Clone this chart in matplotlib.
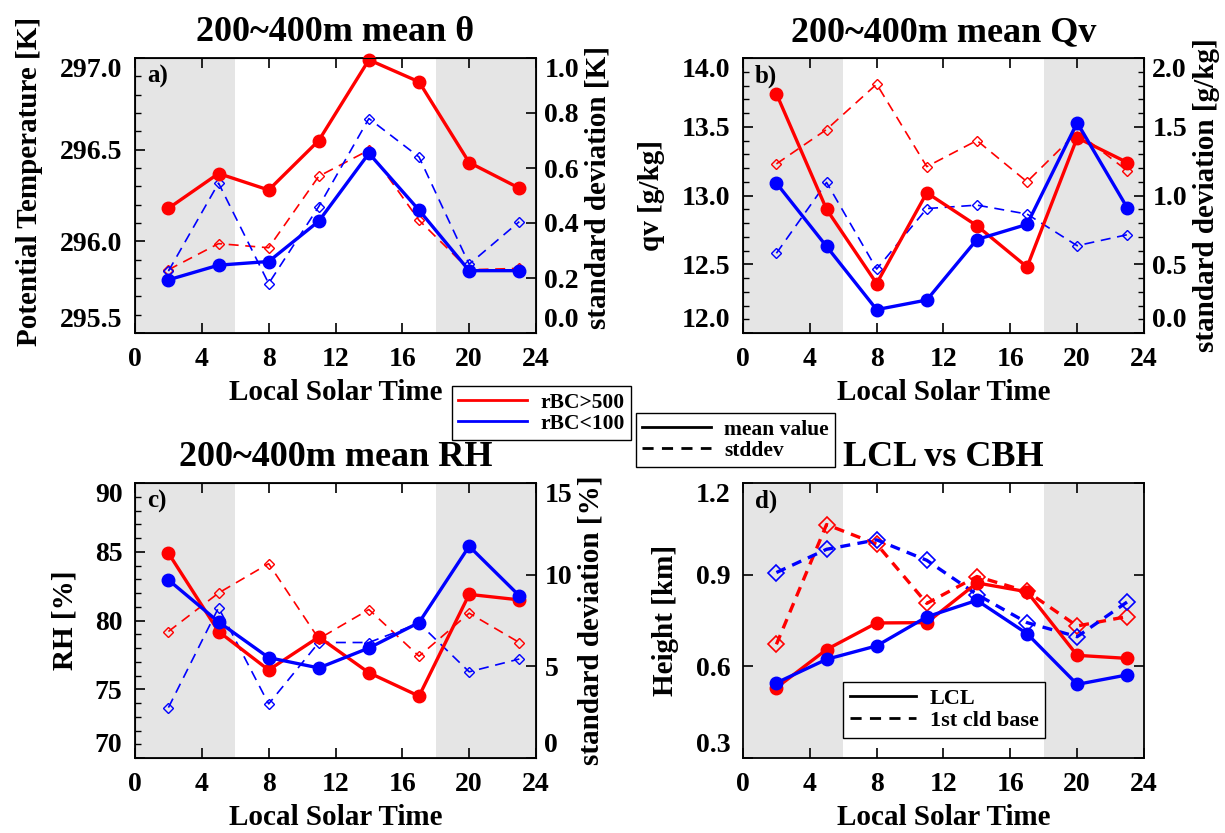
#!/usr/bin/python3

'''
 Diurnal cycle of 200~400m mean theta, Qv, RH and LCL vs cloud base height
 for high (rBC>500) and low (rBC<100) black carbon cases.
'''

import numpy as np
import matplotlib
matplotlib.use('Agg')
import matplotlib.pyplot as plt
from matplotlib.lines import Line2D
from matplotlib.ticker import MultipleLocator, FormatStrFormatter

plt.rcParams['font.family'] = ['Liberation Serif', 'DejaVu Serif']
plt.rcParams['font.weight'] = 'bold'
plt.rcParams['axes.titleweight'] = 'bold'
plt.rcParams['axes.labelweight'] = 'bold'

# local solar time of each bin
hours = [2, 5, 8, 11, 14, 17, 20, 23]

# a) potential temperature
theta_high = [296.18, 296.37, 296.28, 296.55, 296.99, 296.87, 296.43, 296.29]
theta_low = [295.79, 295.87, 295.89, 296.11, 296.48, 296.17, 295.84, 295.84]
theta_sd_high = [0.23, 0.325, 0.31, 0.57, 0.665, 0.41, 0.23, 0.235]
theta_sd_low = [0.225, 0.545, 0.18, 0.46, 0.78, 0.64, 0.25, 0.405]

# b) water vapour mixing ratio
qv_high = [13.74, 12.90, 12.36, 13.02, 12.78, 12.48, 13.42, 13.24]
qv_low = [13.09, 12.63, 12.17, 12.24, 12.68, 12.79, 13.53, 12.91]
qv_sd_high = [1.23, 1.48, 1.81, 1.21, 1.40, 1.10, 1.46, 1.18]
qv_sd_low = [0.58, 1.095, 0.465, 0.905, 0.93, 0.865, 0.635, 0.715]

# c) relative humidity
rh_high = [84.9, 79.2, 76.4, 78.8, 76.2, 74.5, 81.9, 81.5]
rh_low = [82.95, 79.9, 77.3, 76.55, 78.0, 79.85, 85.4, 81.8]
rh_sd_high = [6.9, 9.0, 10.6, 6.5, 8.1, 5.55, 7.9, 6.3]
rh_sd_low = [2.75, 8.2, 2.95, 6.3, 6.3, 7.35, 4.7, 5.4]

# d) LCL and first cloud base height [km]
lcl_high = [0.53, 0.655, 0.742, 0.743, 0.873, 0.844, 0.636, 0.626]
lcl_low = [0.546, 0.623, 0.667, 0.762, 0.816, 0.707, 0.541, 0.572]
cbh_high = [0.672, 1.064, 1.0, 0.806, 0.894, 0.845, 0.732, 0.763]
cbh_low = [0.907, 0.983, 1.014, 0.947, 0.835, 0.743, 0.697, 0.811]

RED = '#ff0000'
BLUE = '#0000ff'
SHADE = '#e5e5e5'

W, H = 1225, 833
TICK_FS = 20
LABEL_FS = 21
TITLE_FS = 26


def pull_in_end_labels(ax):
    '''
    IDL style: top/bottom y tick labels sit inside the axis range
    '''
    lo, hi = ax.get_ylim()
    ticks = ax.yaxis.get_major_ticks()
    locs = ax.yaxis.get_majorticklocs()
    for tick, loc in zip(ticks, locs):
        if np.isclose(loc, hi):
            tick.label1.set_va('top')
            tick.label2.set_va('top')
        elif np.isclose(loc, lo):
            tick.label1.set_va('bottom')
            tick.label2.set_va('bottom')


def style_axis(ax, y_major, y_minor, right_ticks=False):
    '''
    Common x axis, night shading and tick styling for one panel
    '''
    ax.axvspan(0, 6, color=SHADE, zorder=0, lw=0)
    ax.axvspan(18, 24, color=SHADE, zorder=0, lw=0)
    ax.set_xlim(0, 24)
    ax.xaxis.set_major_locator(MultipleLocator(4))
    ax.yaxis.set_major_locator(MultipleLocator(y_major))
    if y_minor:
        ax.yaxis.set_minor_locator(MultipleLocator(y_minor))
    ax.tick_params(axis='both', which='major', direction='in', length=7, width=1.2,
                   labelsize=TICK_FS, top=True, right=right_ticks)
    ax.tick_params(axis='x', which='major', pad=10)
    ax.tick_params(axis='y', which='major', pad=9)
    ax.tick_params(axis='both', which='minor', direction='in', length=4, width=1.0,
                   top=False, right=right_ticks)
    for sp in ax.spines.values():
        sp.set_linewidth(1.3)
    ax.set_xlabel('Local Solar Time', fontsize=LABEL_FS, labelpad=5)


def panel(rect, mean_hi, mean_lo, sd_hi, sd_lo, ylim, sd_lim, y_major, y_minor,
          sd_major, sd_minor, ylabel, sdlabel, title, tag, fmt='%.1f', sdfmt='%.1f'):
    '''
    Mean values on the left axis, standard deviation on a twin right axis
    '''
    ax = fig.add_axes(rect)
    style_axis(ax, y_major, y_minor)
    ax.set_ylim(*ylim)
    ax.yaxis.set_major_formatter(FormatStrFormatter(fmt))
    ax.set_ylabel(ylabel, fontsize=LABEL_FS, labelpad=12)
    ax.set_title(title, fontsize=TITLE_FS, pad=12)
    ax.text(0.03, 0.975, tag, transform=ax.transAxes, fontsize=18, va='top', ha='left')

    ax2 = ax.twinx()
    ax2.set_ylim(*sd_lim)
    ax2.yaxis.set_major_locator(MultipleLocator(sd_major))
    if sd_minor:
        ax2.yaxis.set_minor_locator(MultipleLocator(sd_minor))
    ax2.yaxis.set_major_formatter(FormatStrFormatter(sdfmt))
    ax2.tick_params(axis='y', which='major', direction='in', length=7, width=1.2,
                    labelsize=TICK_FS, pad=6)
    ax2.tick_params(axis='y', which='minor', direction='in', length=4, width=1.0)
    ax2.set_ylabel(sdlabel, fontsize=LABEL_FS, labelpad=4)

    ax2.plot(hours, sd_hi, '--', color=RED, lw=1.2, marker='D', ms=5, mfc='none',
             mew=1.0, dashes=(6, 4), clip_on=False)
    ax2.plot(hours, sd_lo, '--', color=BLUE, lw=1.2, marker='D', ms=5, mfc='none',
             mew=1.0, dashes=(6, 4), clip_on=False)
    ax2.plot(hours, mean_hi, '-', color=RED, lw=2.4, marker='o', ms=9, clip_on=False,
             transform=ax.transData)
    ax2.plot(hours, mean_lo, '-', color=BLUE, lw=2.4, marker='o', ms=9, clip_on=False,
             transform=ax.transData)
    return ax, ax2


fig = plt.figure(figsize=(W / 100, H / 100), dpi=100)

# axes rectangles measured in pixels
left_a, left_b = 135 / W, 743 / W
width = 401 / W
bot_top, bot_low = 1 - 333 / H, 1 - 758 / H
height = 275 / H

all_axes = []
all_axes += panel([left_a, bot_top, width, height], theta_high, theta_low, theta_sd_high,
                  theta_sd_low, (295.5, 297.0), (0.0, 1.0), 0.5, 0.1, 0.2, None,
                  'Potential Temperature [K]', 'standard deviation [K]',
                  '200~400m mean θ', 'a)')
all_axes[0].yaxis.label.set_y(0.55)
all_axes[1].yaxis.label.set_y(0.53)

all_axes += panel([left_b, bot_top, width, height], qv_high, qv_low, qv_sd_high, qv_sd_low,
                  (12.0, 14.0), (0.0, 2.0), 0.5, 0.1, 0.5, 0.1,
                  'qv [g/kg]', 'standard deviation [g/kg]', '200~400m mean Qv', 'b)')

all_axes += panel([left_a, bot_low, width, height], rh_high, rh_low, rh_sd_high, rh_sd_low,
                  (70, 90), (0, 15), 5, 1, 5, None,
                  'RH [%]', 'standard deviation [%]', '200~400m mean RH', 'c)',
                  fmt='%d', sdfmt='%d')

# d) LCL vs cloud base, single axis
axd = fig.add_axes([left_b, bot_low, width, height])
style_axis(axd, 0.3, None, right_ticks=True)
axd.set_ylim(0.3, 1.2)
axd.yaxis.set_major_formatter(FormatStrFormatter('%.1f'))
axd.set_ylabel('Height [km]', fontsize=LABEL_FS, labelpad=12)
axd.set_title('LCL vs CBH', fontsize=TITLE_FS, pad=12)
axd.text(0.03, 0.975, 'd)', transform=axd.transAxes, fontsize=18, va='top', ha='left')
axd.plot(hours, cbh_high, '--', color=RED, lw=2.4, marker='D', ms=8, mfc='none',
         mew=1.2, dashes=(3, 2.2), clip_on=False)
axd.plot(hours, cbh_low, '--', color=BLUE, lw=2.4, marker='D', ms=8, mfc='none',
         mew=1.2, dashes=(3, 2.2), clip_on=False)
axd.plot(hours, lcl_high, '-', color=RED, lw=2.4, marker='o', ms=9, clip_on=False)
axd.plot(hours, lcl_low, '-', color=BLUE, lw=2.4, marker='o', ms=9, clip_on=False)
all_axes.append(axd)

for a in all_axes:
    pull_in_end_labels(a)

leg_kw = dict(frameon=True, fancybox=False, framealpha=1, edgecolor='black',
              borderaxespad=0, loc='upper left', borderpad=0.3, labelspacing=0.05)

# legend for panel d
ld = axd.legend([Line2D([], [], color='black', lw=2.0),
                 Line2D([], [], color='black', lw=2.0, ls='--', dashes=(4, 3))],
                ['LCL', '1st cld base'], fontsize=16, handlelength=3.0,
                handletextpad=0.6,
                bbox_to_anchor=(843 / W, 1 - 682 / H), bbox_transform=fig.transFigure,
                **leg_kw)
ld.get_frame().set_linewidth(1.0)

# colour legend and line style legend between the rows
l1 = fig.legend([Line2D([], [], color=RED, lw=2.0), Line2D([], [], color=BLUE, lw=2.0)],
                ['rBC>500', 'rBC<100'], fontsize=15.5, handlelength=3.2,
                handletextpad=0.6, bbox_to_anchor=(452 / W, 1 - 386 / H), **leg_kw)
l1.get_frame().set_linewidth(1.0)

l2 = fig.legend([Line2D([], [], color='black', lw=2.0),
                 Line2D([], [], color='black', lw=2.0, ls='--', dashes=(4, 3))],
                ['mean value', 'stddev'], fontsize=15.5, handlelength=3.2,
                handletextpad=0.6, bbox_to_anchor=(636 / W, 1 - 413 / H), **leg_kw)
l2.get_frame().set_linewidth(1.0)

fig.savefig('out.png', dpi=100)
